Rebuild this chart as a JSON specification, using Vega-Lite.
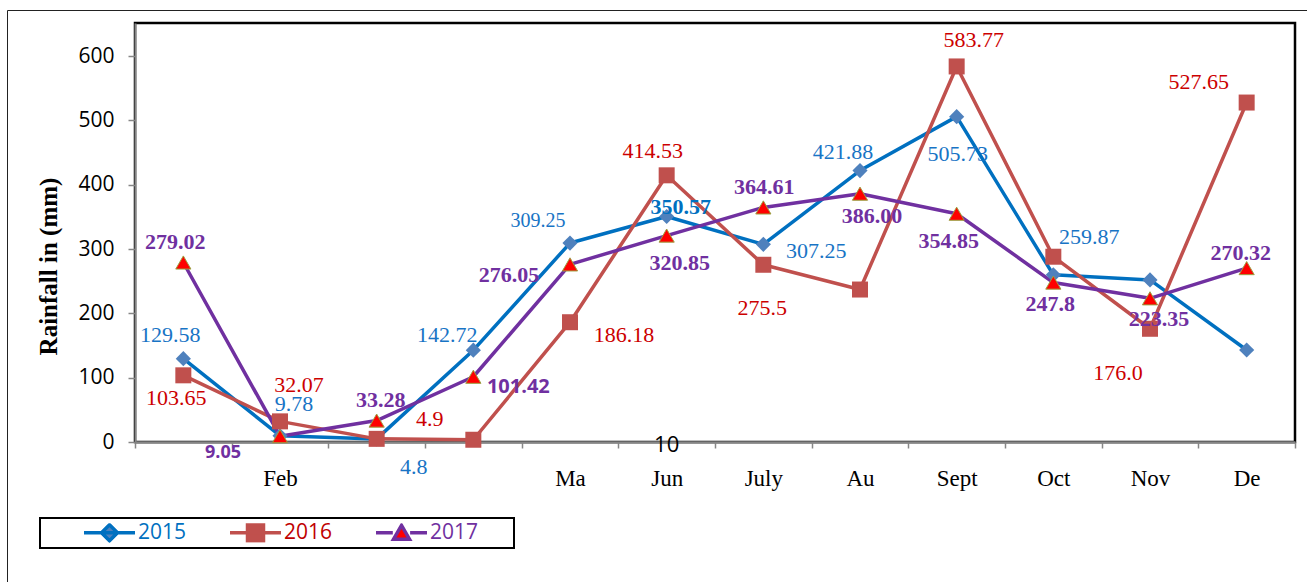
{
  "$schema": "https://vega.github.io/schema/vega-lite/v6.json",
  "width": 1160,
  "height": 419,
  "autosize": {"type": "none"},
  "padding": {"left": 135, "top": 23, "right": 12, "bottom": 140},
  "background": "white",
  "config": {
    "view": {"stroke": "#000000", "strokeWidth": 2.5},
    "text": {"baseline": "middle", "align": "center"}
  },
  "datasets": {
    "rain": [
      {"month": "Jan", "year": "2015", "value": 129.58, "label": "129.58"},
      {"month": "Feb", "year": "2015", "value": 9.78, "label": "9.78"},
      {"month": "Mar", "year": "2015", "value": 4.8, "label": "4.8"},
      {"month": "Apr", "year": "2015", "value": 142.72, "label": "142.72"},
      {"month": "May", "year": "2015", "value": 309.25, "label": "309.25"},
      {"month": "Jun", "year": "2015", "value": 350.57, "label": "350.57"},
      {"month": "Jul", "year": "2015", "value": 307.25, "label": "307.25"},
      {"month": "Aug", "year": "2015", "value": 421.88, "label": "421.88"},
      {"month": "Sep", "year": "2015", "value": 505.73, "label": "505.73"},
      {"month": "Oct", "year": "2015", "value": 259.87, "label": "259.87"},
      {"month": "Nov", "year": "2015", "value": 252, "label": ""},
      {"month": "Dec", "year": "2015", "value": 143, "label": ""},
      {"month": "Jan", "year": "2016", "value": 103.65, "label": "103.65"},
      {"month": "Feb", "year": "2016", "value": 32.07, "label": "32.07"},
      {"month": "Mar", "year": "2016", "value": 4.9, "label": "4.9"},
      {"month": "Apr", "year": "2016", "value": 3.5, "label": ""},
      {"month": "May", "year": "2016", "value": 186.18, "label": "186.18"},
      {"month": "Jun", "year": "2016", "value": 414.53, "label": "414.53"},
      {"month": "Jul", "year": "2016", "value": 275.5, "label": "275.5"},
      {"month": "Aug", "year": "2016", "value": 237, "label": ""},
      {"month": "Sep", "year": "2016", "value": 583.77, "label": "583.77"},
      {"month": "Oct", "year": "2016", "value": 288, "label": ""},
      {"month": "Nov", "year": "2016", "value": 176.0, "label": "176.0"},
      {"month": "Dec", "year": "2016", "value": 527.65, "label": "527.65"},
      {"month": "Jan", "year": "2017", "value": 279.02, "label": "279.02"},
      {"month": "Feb", "year": "2017", "value": 9.05, "label": "9.05"},
      {"month": "Mar", "year": "2017", "value": 33.28, "label": "33.28"},
      {"month": "Apr", "year": "2017", "value": 101.42, "label": "101.42"},
      {"month": "May", "year": "2017", "value": 276.05, "label": "276.05"},
      {"month": "Jun", "year": "2017", "value": 320.85, "label": "320.85"},
      {"month": "Jul", "year": "2017", "value": 364.61, "label": "364.61"},
      {"month": "Aug", "year": "2017", "value": 386.0, "label": "386.00"},
      {"month": "Sep", "year": "2017", "value": 354.85, "label": "354.85"},
      {"month": "Oct", "year": "2017", "value": 247.8, "label": "247.8"},
      {"month": "Nov", "year": "2017", "value": 223.35, "label": "223.35"},
      {"month": "Dec", "year": "2017", "value": 270.32, "label": "270.32"}
    ],
    "note": [
      {"month": "Jun", "value": 0, "note": "10"}
    ]
  },
  "data": {"name": "rain"},
  "encoding": {
    "x": {
      "field": "month", "type": "nominal",
      "sort": ["Jan","Feb","Mar","Apr","May","Jun","Jul","Aug","Sep","Oct","Nov","Dec"],
      "scale": {"type": "band", "paddingInner": 0, "paddingOuter": 0},
      "axis": {
        "title": null, "tickBand": "extent", "grid": false, "zindex": 0,
        "domainColor": "#868686", "domainWidth": 2.5,
        "tickColor": "#868686", "tickWidth": 1.5, "tickSize": 6,
        "labelFont": "Liberation Serif", "labelFontSize": 23, "labelColor": "#000000",
        "labelPadding": 30, "labelBaseline": "middle", "labelAngle": 0,
        "labelExpr": "datum.value=='Feb'?'Feb':datum.value=='May'?'Ma':datum.value=='Jun'?'Jun':datum.value=='Jul'?'July':datum.value=='Aug'?'Au':datum.value=='Sep'?'Sept':datum.value=='Oct'?'Oct':datum.value=='Nov'?'Nov':datum.value=='Dec'?'De':''"
      }
    },
    "y": {
      "field": "value", "type": "quantitative",
      "scale": {"domain": [0, 651.3], "nice": false, "zero": true},
      "axis": {
        "title": "Rainfall in (mm)", "titleFont": "Liberation Serif", "titleFontSize": 25,
        "titleFontWeight": "bold", "titleColor": "#000000", "titleX": -87, "titleY": 243,
        "titleAngle": -90, "titleBaseline": "middle", "titleAlign": "center",
        "values": [0, 100, 200, 300, 400, 500, 600], "grid": false, "zindex": 0,
        "labelFont": "Open Sans", "labelFontSize": 21, "labelColor": "#000000", "labelPadding": 14,
        "tickSize": 7, "tickColor": "#868686", "tickWidth": 1.5,
        "domainColor": "#868686", "domainWidth": 2
      }
    }
  },
  "layer": [
    {
      "mark": {"type": "line", "strokeWidth": 3.5, "strokeJoin": "round"},
      "encoding": {
        "color": {
          "field": "year", "type": "nominal",
          "scale": {"domain": ["2015", "2016", "2017"], "range": ["#0070C0", "#C0504D", "#7030A0"]},
          "legend": {
            "orient": "none", "legendX": -95, "legendY": 495, "direction": "horizontal",
            "title": "\u00a0", "titleOrient": "right", "titlePadding": 31, "titleFontSize": 10,
            "padding": 5, "strokeColor": "#000000", "fillColor": "#ffffff",
            "symbolSize": 7482, "symbolStrokeWidth": 3.5, "clipHeight": 19,
            "labelOffset": 3, "columnPadding": 4,
            "labelFont": "Open Sans", "labelFontSize": 21, "labelBaseline": "middle",
            "encode": {
              "legend": {"update": {"strokeWidth": {"value": 2}}},
              "symbols": {"update": {
                "shape": {"signal": "datum.value=='2015' ? 'M-0.139,0H1.04M0.451,-0.185L0.636,0L0.451,0.185L0.266,0Z' : datum.value=='2016' ? 'M-0.139,0H1.04M0.266,-0.185H0.636V0.185H0.266Z' : 'M-0.139,0H0.25M0.65,0H1.04M0.451,-0.17L0.636,0.15L0.266,0.15Z'"},
                "fill": {"signal": "datum.value=='2015' ? '#4F81BD' : datum.value=='2016' ? '#C0504D' : '#FF0000'"},
                "stroke": {"signal": "datum.value=='2015' ? '#0070C0' : datum.value=='2016' ? '#C0504D' : '#7030A0'"},
                "strokeWidth": {"value": 3.5},
                "opacity": {"value": 1}, "fillOpacity": {"value": 1}, "strokeOpacity": {"value": 1}
              }},
              "labels": {"update": {
                "fill": {"signal": "datum.value=='2015' ? '#0070C0' : datum.value=='2016' ? '#C00000' : '#7030A0'"}
              }}
            }
          }
        }
      }
    },
    {
      "transform": [{"filter": "datum.year=='2015'"}],
      "mark": {"type": "point", "shape": "diamond", "filled": true, "size": 230, "fill": "#4F81BD", "opacity": 1, "strokeWidth": 0}
    },
    {
      "transform": [{"filter": "datum.year=='2016'"}],
      "mark": {"type": "point", "shape": "square", "filled": true, "size": 256, "fill": "#C0504D", "opacity": 1, "strokeWidth": 0}
    },
    {
      "transform": [{"filter": "datum.year=='2017'"}],
      "mark": {"type": "point", "shape": "triangle-up", "filled": true, "size": 230, "fill": "#FF0000", "stroke": "#9BA040", "strokeWidth": 1, "opacity": 1}
    },
    {
      "encoding": {"text": {"field": "label"}},
      "layer": [
        {"transform": [{"filter": "datum.year=='2015'&&datum.month=='Jan'"}], "mark": {"type": "text", "font": "Liberation Serif", "fontSize": 22, "color": "#1874C5", "dx": -13, "dy": -24}},
        {"transform": [{"filter": "datum.year=='2015'&&datum.month=='Feb'"}], "mark": {"type": "text", "font": "Liberation Serif", "fontSize": 22, "color": "#1874C5", "dx": 14, "dy": -32}},
        {"transform": [{"filter": "datum.year=='2015'&&datum.month=='Mar'"}], "mark": {"type": "text", "font": "Liberation Serif", "fontSize": 22, "color": "#1874C5", "dx": 37, "dy": 28}},
        {"transform": [{"filter": "datum.year=='2015'&&datum.month=='Apr'"}], "mark": {"type": "text", "font": "Liberation Serif", "fontSize": 22, "color": "#1874C5", "dx": -26, "dy": -15}},
        {"transform": [{"filter": "datum.year=='2015'&&datum.month=='May'"}], "mark": {"type": "text", "font": "Liberation Serif", "fontSize": 20, "color": "#1874C5", "dx": -32, "dy": -22}},
        {"transform": [{"filter": "datum.year=='2015'&&datum.month=='Jun'"}], "mark": {"type": "text", "font": "Liberation Serif", "fontSize": 22, "fontWeight": "bold", "color": "#0070C0", "dx": 14, "dy": -9}},
        {"transform": [{"filter": "datum.year=='2015'&&datum.month=='Jul'"}], "mark": {"type": "text", "font": "Liberation Serif", "fontSize": 22, "color": "#1874C5", "dx": 53, "dy": 7}},
        {"transform": [{"filter": "datum.year=='2015'&&datum.month=='Aug'"}], "mark": {"type": "text", "font": "Liberation Serif", "fontSize": 22, "color": "#1874C5", "dx": -17, "dy": -19}},
        {"transform": [{"filter": "datum.year=='2015'&&datum.month=='Sep'"}], "mark": {"type": "text", "font": "Liberation Serif", "fontSize": 22, "color": "#1874C5", "dx": 1, "dy": 37}},
        {"transform": [{"filter": "datum.year=='2015'&&datum.month=='Oct'"}], "mark": {"type": "text", "font": "Liberation Serif", "fontSize": 22, "color": "#1874C5", "dx": 36, "dy": -38}},
        {"transform": [{"filter": "datum.year=='2016'&&datum.month=='Jan'"}], "mark": {"type": "text", "font": "Liberation Serif", "fontSize": 22, "color": "#CC0000", "dx": -7, "dy": 23}},
        {"transform": [{"filter": "datum.year=='2016'&&datum.month=='Feb'"}], "mark": {"type": "text", "font": "Liberation Serif", "fontSize": 22, "color": "#CC0000", "dx": 19, "dy": -36}},
        {"transform": [{"filter": "datum.year=='2016'&&datum.month=='Mar'"}], "mark": {"type": "text", "font": "Liberation Serif", "fontSize": 22, "color": "#CC0000", "dx": 53, "dy": -20}},
        {"transform": [{"filter": "datum.year=='2016'&&datum.month=='May'"}], "mark": {"type": "text", "font": "Liberation Serif", "fontSize": 22, "color": "#CC0000", "dx": 54, "dy": 13}},
        {"transform": [{"filter": "datum.year=='2016'&&datum.month=='Jun'"}], "mark": {"type": "text", "font": "Liberation Serif", "fontSize": 22, "color": "#CC0000", "dx": -14, "dy": -24}},
        {"transform": [{"filter": "datum.year=='2016'&&datum.month=='Jul'"}], "mark": {"type": "text", "font": "Liberation Serif", "fontSize": 22, "color": "#CC0000", "dx": -1, "dy": 43}},
        {"transform": [{"filter": "datum.year=='2016'&&datum.month=='Sep'"}], "mark": {"type": "text", "font": "Liberation Serif", "fontSize": 22, "color": "#CC0000", "dx": 17, "dy": -26}},
        {"transform": [{"filter": "datum.year=='2016'&&datum.month=='Nov'"}], "mark": {"type": "text", "font": "Liberation Serif", "fontSize": 22, "color": "#CC0000", "dx": -32, "dy": 44}},
        {"transform": [{"filter": "datum.year=='2016'&&datum.month=='Dec'"}], "mark": {"type": "text", "font": "Liberation Serif", "fontSize": 22, "color": "#CC0000", "dx": -48, "dy": -21}},
        {"transform": [{"filter": "datum.year=='2017'&&datum.month=='Jan'"}], "mark": {"type": "text", "font": "Liberation Serif", "fontSize": 22, "fontWeight": "bold", "color": "#7030A0", "dx": -8, "dy": -20}},
        {"transform": [{"filter": "datum.year=='2017'&&datum.month=='Feb'"}], "mark": {"type": "text", "font": "Open Sans", "fontSize": 18, "fontWeight": "bold", "color": "#7030A0", "dx": -57, "dy": 17}},
        {"transform": [{"filter": "datum.year=='2017'&&datum.month=='Mar'"}], "mark": {"type": "text", "font": "Liberation Serif", "fontSize": 22, "fontWeight": "bold", "color": "#7030A0", "dx": 4, "dy": -21}},
        {"transform": [{"filter": "datum.year=='2017'&&datum.month=='Apr'"}], "mark": {"type": "text", "font": "Open Sans", "fontSize": 20, "fontWeight": "bold", "color": "#7030A0", "dx": 45, "dy": 10}},
        {"transform": [{"filter": "datum.year=='2017'&&datum.month=='May'"}], "mark": {"type": "text", "font": "Liberation Serif", "fontSize": 22, "fontWeight": "bold", "color": "#7030A0", "dx": -61, "dy": 11}},
        {"transform": [{"filter": "datum.year=='2017'&&datum.month=='Jun'"}], "mark": {"type": "text", "font": "Liberation Serif", "fontSize": 22, "fontWeight": "bold", "color": "#7030A0", "dx": 13, "dy": 27}},
        {"transform": [{"filter": "datum.year=='2017'&&datum.month=='Jul'"}], "mark": {"type": "text", "font": "Liberation Serif", "fontSize": 22, "fontWeight": "bold", "color": "#7030A0", "dx": 1, "dy": -20}},
        {"transform": [{"filter": "datum.year=='2017'&&datum.month=='Aug'"}], "mark": {"type": "text", "font": "Liberation Serif", "fontSize": 22, "fontWeight": "bold", "color": "#7030A0", "dx": 12, "dy": 22}},
        {"transform": [{"filter": "datum.year=='2017'&&datum.month=='Sep'"}], "mark": {"type": "text", "font": "Liberation Serif", "fontSize": 22, "fontWeight": "bold", "color": "#7030A0", "dx": -8, "dy": 27}},
        {"transform": [{"filter": "datum.year=='2017'&&datum.month=='Oct'"}], "mark": {"type": "text", "font": "Liberation Serif", "fontSize": 22, "fontWeight": "bold", "color": "#7030A0", "dx": -3, "dy": 21}},
        {"transform": [{"filter": "datum.year=='2017'&&datum.month=='Nov'"}], "mark": {"type": "text", "font": "Liberation Serif", "fontSize": 22, "fontWeight": "bold", "color": "#7030A0", "dx": 9, "dy": 21}},
        {"transform": [{"filter": "datum.year=='2017'&&datum.month=='Dec'"}], "mark": {"type": "text", "font": "Liberation Serif", "fontSize": 22, "fontWeight": "bold", "color": "#7030A0", "dx": -6, "dy": -15}}
      ]
    },
    {
      "data": {"name": "note"},
      "mark": {"type": "text", "font": "Open Sans", "color": "#000000", "opacity": 1, "dy": 3},
      "encoding": {
        "text": {"field": "note", "type": "nominal"},
        "size": {
          "field": "note", "type": "ordinal", "scale": {"range": [22, 22]},
          "legend": {
            "orient": "none", "legendX": -128, "legendY": -13, "padding": 700,
            "title": null, "strokeColor": "#222222", "symbolOpacity": 0, "labelExpr": "''",
            "encode": {"legend": {"update": {"strokeWidth": {"value": 1.5}}}}
          }
        }
      }
    }
  ]
}
